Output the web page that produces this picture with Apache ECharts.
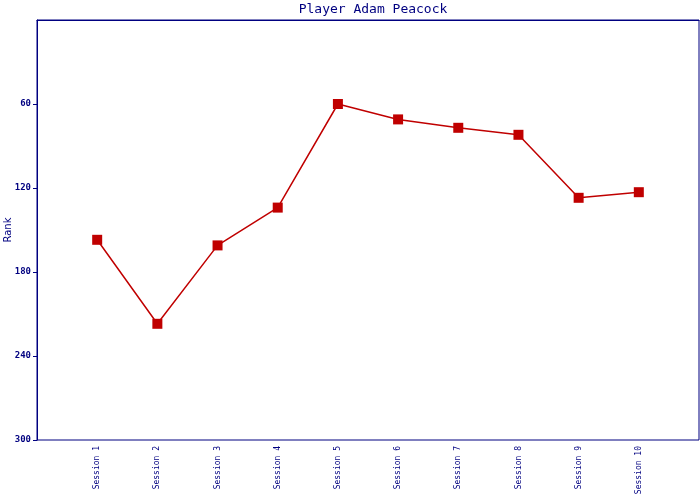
<!DOCTYPE html>
<html><head><meta charset="utf-8">
<script src="https://cdn.jsdelivr.net/npm/echarts@6/dist/echarts.min.js"></script>
<style>html,body{margin:0;padding:0;background:#fff}#c{width:700px;height:500px}</style>
</head><body><div id="c"></div>
<script>
const categories = ['', 'Session 1','Session 2','Session 3','Session 4','Session 5','Session 6','Session 7','Session 8','Session 9','Session 10', ''];
const ranks = [null, 157, 217, 161, 134, 60, 71, 77, 82, 127, 123, null];
const yTicks = [60, 120, 180, 240, 300];
const navy = '#000080';
const chart = echarts.init(document.getElementById('c'));
chart.setOption({
  animation: false,
  backgroundColor: '#fff',
  title: {
    text: 'Player Adam Peacock', left: 368, textAlign: 'center', top: -2,
    textStyle: { fontFamily: 'DejaVu Sans Mono', fontSize: 13, fontWeight: 'normal', color: navy }
  },
  grid: { left: 37, right: 1, top: 20, bottom: 60, show: true, borderColor: navy, borderWidth: 1, backgroundColor: 'transparent', containLabel: false, outerBoundsMode: 'none' },
  xAxis: {
    type: 'category', data: categories, boundaryGap: false,
    axisLine: { lineStyle: { color: navy, width: 1 } },
    axisTick: { show: false },
    axisLabel: { rotate: 90, interval: 0, margin: 6, fontFamily: 'DejaVu Sans Mono', fontSize: 8, color: navy },
    splitLine: { show: false }
  },
  yAxis: {
    type: 'value', inverse: true, min: 0, max: 300, interval: 60,
    name: 'Rank', nameLocation: 'middle', nameGap: 24, nameRotate: 90, nameMoveOverlap: false,
    nameTextStyle: { fontFamily: 'DejaVu Sans', fontSize: 10, color: navy },
    axisLine: { show: true, lineStyle: { color: navy, width: 1 } },
    axisTick: { show: true, length: 4, lineStyle: { color: navy }, customValues: yTicks },
    axisLabel: { margin: 6, fontFamily: 'DejaVu Sans Mono', fontSize: 9, fontWeight: 'bold', color: navy,
      customValues: yTicks },
    splitLine: { show: false }
  },
  series: [{
    type: 'line', data: ranks, connectNulls: false,
    symbol: 'rect', symbolSize: 10,
    lineStyle: { color: '#c00000', width: 1.5 },
    itemStyle: { color: '#c00000' }
  }]
});
</script></body></html>
